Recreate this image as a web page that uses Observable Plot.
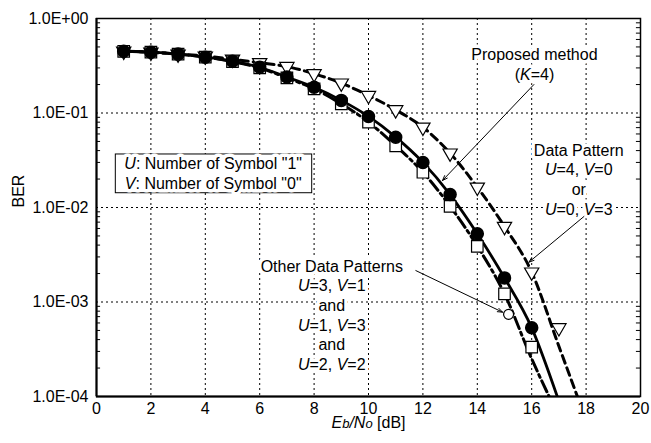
<!DOCTYPE html>
<html>
<head>
<meta charset="utf-8">
<script src="https://cdn.jsdelivr.net/npm/d3@7"></script>
<script src="https://cdn.jsdelivr.net/npm/@observablehq/plot@0.6"></script>
<style>
  html, body { margin: 0; padding: 0; background: white; }
</style>
</head>
<body>
<div id="chart"></div>
<script>
// ---- data ----
const ebnoCircle = [1,2,3,4,5,6,7,8,9,10,11,12,13,14,15,16];
const berCircle = [0.45,0.44,0.42,0.39,0.353,0.305,0.24,0.187,0.136,0.092,0.0555,0.030,0.0137,0.00527,0.0018,0.000533];

const ebnoSquare = [1,2,3,4,5,6,7,8,9,10,11,12,13,14,15,16];
const berSquare = [0.45,0.44,0.42,0.39,0.35,0.30,0.235,0.18,0.125,0.080,0.045,0.0236,0.0103,0.00387,0.00122,0.000333];

const ebnoTriangle = [1,2,3,4,5,6,7,8,9,10,11,12,13,14,15,16,17];
const berTriangle = [0.45,0.44,0.42,0.40,0.37,0.34,0.31,0.26,0.207,0.153,0.108,0.0707,0.0376,0.0164,0.0063,0.00207,0.000533];

const ebnoOpenCircle = [15.15];
const berOpenCircle = [0.00074];

// fitted curves
const ebnoSolid = [1,2,3,4,5,6,7,8,9,10,11,12,13,14,15,16,16.94];
const berSolid = [0.45,0.44,0.42,0.39,0.353,0.305,0.24,0.187,0.136,0.092,0.0555,0.030,0.0137,0.00527,0.0018,0.000533,0.0001];

const ebnoDashDot = [1,2,3,4,5,6,7,8,9,10,11,12,13,14,15,16,16.64];
const berDashDot = [0.45,0.44,0.42,0.39,0.35,0.30,0.235,0.18,0.125,0.080,0.045,0.0236,0.0103,0.0039,0.00122,0.00025,0.0001];

const ebnoDashed = [1,2,3,4,5,6,7,8,9,10,11,12,13,14,15,16,17,17.68];
const berDashed = [0.45,0.44,0.42,0.40,0.37,0.34,0.31,0.26,0.207,0.153,0.108,0.0707,0.0376,0.0164,0.0063,0.00207,0.00034,0.0001];

// axes
const xTicks = [0,2,4,6,8,10,12,14,16,18,20];
const yTicks = [1e-4,1e-3,1e-2,1e-1,1];
const yMinor = [];
for (let e = -4; e < 0; e++) for (let m = 2; m <= 9; m++) yMinor.push(m * Math.pow(10, e));

// annotations (data coordinates)
const legendBox = [{x1: 0.71, x2: 7.93, y1: 0.0364, y2: 0.01416}];
const notes = [
  {x: 4.29, y: 0.0232, text: "U: Number of Symbol \"1\"\nV: Number of Symbol \"0\""},
  {x: 16.1, y: 0.334, text: "Proposed method\n(K=4)"},
  {x: 17.73, y: 0.0201, text: "Data Pattern\nU=4, V=0\nor\nU=0, V=3"},
  {x: 8.65, y: 0.000738, text: "Other Data Patterns\nU=3, V=1\nand\nU=1, V=3\nand\nU=2, V=2"}
];
const arrows = [
  {x1: 16.08, y1: 0.200, x2: 12.72, y2: 0.0193},
  {x1: 17.92, y1: 0.00803, x2: 15.9, y2: 0.00264},
  {x1: 11.74, y1: 0.00215, x2: 14.93, y2: 0.00078}
];

const zip = (xs, ys) => xs.map((x, i) => ({x, y: ys[i]}));
const fmt = d => {
  const e = Math.round(Math.log10(d));
  return "1.0E" + (e >= 0 ? "+" : "-") + String(Math.abs(e)).padStart(2, "0");
};

const chart = Plot.plot({
  width: 651,
  height: 443,
  marginLeft: 96,
  marginRight: 11,
  marginTop: 18,
  marginBottom: 47,
  style: {fontFamily: "'Liberation Sans', Arial, sans-serif", fontSize: "16px", color: "black", background: "white"},
  x: {domain: [0, 20]},
  y: {type: "log", domain: [1e-4, 1]},
  marks: [
    Plot.ruleX(xTicks.slice(1, -1), {stroke: "black", strokeWidth: 1, strokeDasharray: "2,3"}),
    Plot.ruleY(yTicks.slice(1, -1), {stroke: "black", strokeWidth: 1, strokeDasharray: "2,3"}),
    Plot.ruleY(yMinor, {x1: 0, x2: 0.15, stroke: "black", strokeWidth: 1}),
    Plot.ruleY(yMinor, {x1: 19.85, x2: 20, stroke: "black", strokeWidth: 1}),
    Plot.axisX(xTicks, {tickSize: 0, tickPadding: 6, label: null, fontSize: 16}),
    Plot.axisY(yTicks, {tickSize: 0, tickPadding: 8, tickFormat: fmt, label: null, fontSize: 16}),
    Plot.text(["Eb/No [dB]"], {frameAnchor: "bottom", dy: 31, fontSize: 16}),
    Plot.text(["BER"], {frameAnchor: "left", dx: -78, rotate: -90, fontSize: 16}),
    // curves
    Plot.line(zip(ebnoDashed, berDashed), {x: "x", y: "y", curve: "monotone-x", stroke: "black", strokeWidth: 3, strokeDasharray: "8,5", clip: true}),
    Plot.line(zip(ebnoDashDot, berDashDot), {x: "x", y: "y", curve: "monotone-x", stroke: "black", strokeWidth: 3, strokeDasharray: "12,4,3,4", clip: true}),
    Plot.line(zip(ebnoSolid, berSolid), {x: "x", y: "y", curve: "monotone-x", stroke: "black", strokeWidth: 2.8, clip: true}),
    // markers
    Plot.dot(zip(ebnoTriangle, berTriangle), {x: "x", y: "y", symbol: "triangle", rotate: 180, r: 5.3, fill: "white", stroke: "black", strokeWidth: 1.2}),
    Plot.dot(zip(ebnoSquare, berSquare), {x: "x", y: "y", symbol: "square", r: 6.5, fill: "white", stroke: "black", strokeWidth: 1.2}),
    Plot.dot(zip(ebnoOpenCircle, berOpenCircle), {x: "x", y: "y", r: 5, fill: "white", stroke: "black", strokeWidth: 1.2}),
    Plot.dot(zip(ebnoCircle, berCircle), {x: "x", y: "y", r: 6, fill: "black", stroke: "black"}),
    // legend box and annotations (white halo layer, then text layer)
    Plot.rect(legendBox, {x1: "x1", x2: "x2", y1: "y1", y2: "y2", fill: "white", stroke: "black", strokeWidth: 1}),
    Plot.text(notes, {x: "x", y: "y", text: "text", fontSize: 16, lineHeight: 1.23, fill: "white", stroke: "white", strokeWidth: 7}),
    Plot.text(notes, {x: "x", y: "y", text: "text", fontSize: 16, lineHeight: 1.23, fill: "black"}),
    Plot.arrow(arrows, {x1: "x1", y1: "y1", x2: "x2", y2: "y2", stroke: "black", strokeWidth: 1, headLength: 8, headAngle: 40}),
    // frame
    Plot.frame({stroke: "black", strokeWidth: 1.5}),
    Plot.ruleX([0], {stroke: "black", strokeWidth: 2}),
    Plot.ruleY([1e-4], {stroke: "black", strokeWidth: 2})
  ]
});

// italic variables (U, V, K) and Eb/No label
const NS = "http://www.w3.org/2000/svg";
chart.querySelectorAll("text, tspan").forEach(el => {
  if (el.childNodes.length !== 1 || el.firstChild.nodeType !== 3) return;
  const s = el.textContent;
  if (s === "Eb/No [dB]") {
    el.textContent = "";
    const parts = [["E", true, false], ["b", true, true], ["/", true, false], ["N", true, false], ["o", true, true], [" [dB]", false, false]];
    for (const [t, it, small] of parts) {
      const ts = document.createElementNS(NS, "tspan");
      if (it) ts.setAttribute("font-style", "italic");
      if (small) ts.setAttribute("font-size", "13");
      ts.textContent = t;
      el.appendChild(ts);
    }
    return;
  }
  if (!/[UVK][=:]/.test(s)) return;
  el.textContent = "";
  s.split(/([UVK](?=[=:]))/).forEach(p => {
    if (!p) return;
    if (/^[UVK]$/.test(p)) {
      const ts = document.createElementNS(NS, "tspan");
      ts.setAttribute("font-style", "italic");
      ts.textContent = p;
      el.appendChild(ts);
    } else {
      el.appendChild(document.createTextNode(p));
    }
  });
});

document.getElementById("chart").appendChild(chart);
</script>
</body>
</html>
